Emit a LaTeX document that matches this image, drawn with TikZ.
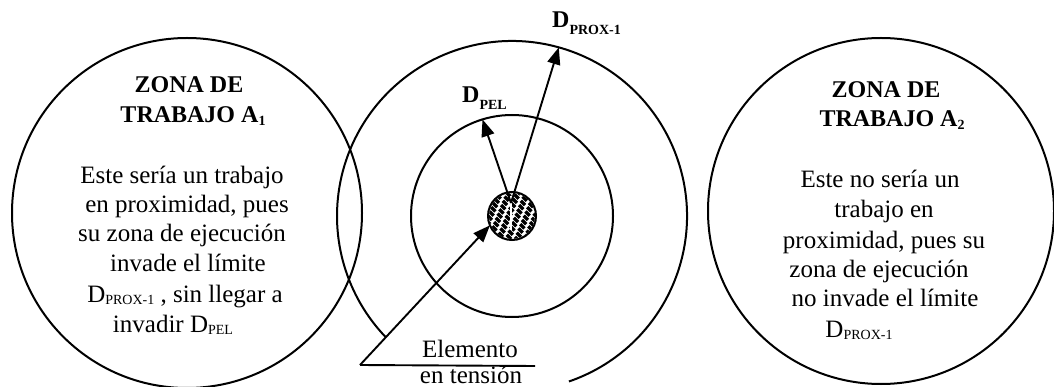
\documentclass[tikz,border=0pt]{standalone}
\usepackage{fontspec}
\setmainfont{Liberation Serif}
\usetikzlibrary{arrows.meta,calc}
\newcommand\subsm[2]{\raisebox{-#1}{\fontsize{14}{14}\selectfont #2}}
\begin{document}
\begin{tikzpicture}[x=1pt,y=-1pt,
  ring/.style={draw, circle, line width=2pt, inner sep=0pt, outer sep=0pt},
  arr/.style={line width=1.9pt, -{Triangle[length=17pt,width=13pt]}},
  txt/.style={anchor=base, inner sep=0pt, font=\fontsize{25}{28}\selectfont},
  hd/.style={anchor=base, inner sep=0pt, font=\fontsize{24}{28}\selectfont\bfseries}]
\useasboundingbox (0,0) rectangle (1054,387);
% work zones
\node[ring, minimum size=350pt] (A1) at (187,213) {};
\node[ring, minimum size=346pt] (A2) at (881,211) {};
% element and limits
\coordinate (c) at (512,216);
\node[ring, minimum size=202pt] (pel) at (c) {};
\draw[line width=2pt] ($(c)+(-71:175pt)$) arc[start angle=-71, end angle=224, radius=175pt];
\node[draw, circle, fill=white, line width=2pt, minimum size=48pt, inner sep=0pt, outer sep=0pt] (hz) at (c) {};
\begin{scope}
  \clip (c) circle (23pt);
  \foreach \k in {-30,-24,...,30}
    \draw[black, line width=3.2pt, dash pattern=on 6pt off 3pt, dash phase=\k pt]
      ($(c)+(\k pt,0)+(-30pt,30pt)$) -- ++(60pt,-60pt);
  \draw[white, line width=1.6pt] ($(c)+(-1pt,20pt)$) -- ++(0pt,-34pt);
\end{scope}
% arrows
\coordinate (o) at (511,203);
\draw[arr] (o) -- ($(c)+(107:101pt)$) coordinate (pelTip);
\draw[arr] (o) -- ($(c)+(74.5:175pt)$) coordinate (proxTip);
\coordinate (e) at (360,365);
\coordinate (eR) at (535,366);
\draw[arr] (e) -- (hz.203);
\draw[line width=1.9pt] (e) -- (eR);
% middle labels
\node[hd, anchor=base west] (lprox) at (552,28) {D\subsm{7pt}{\bfseries PROX-1}};
\node[hd, anchor=base west] (lpel) at (462,103) {D\subsm{7pt}{\bfseries PEL}};
\node[txt] (el1) at (470,357) {Elemento};
\node[txt] (el2) at (471,383) {en tensión};
% left zone text
\node[hd] (a1h1) at (189,93) {ZONA DE};
\node[hd] (a1h2) at (193,123) {TRABAJO A\subsm{3pt}{\bfseries 1}};
\node[txt] (a1t1) at (182,184) {Este sería un trabajo};
\node[txt] (a1t2) at (187,213) {en proximidad, pues};
\node[txt] (a1t3) at (182,242) {su zona de ejecución};
\node[txt] (a1t4) at (188,272) {invade el límite};
\node[txt] (a1t5) at (185,302) {D\subsm{2pt}{PROX-1} , sin llegar a};
\node[txt] (a1t6) at (173,332) {invadir D\subsm{2pt}{PEL}};
% right zone text
\node[hd] (a2h1) at (886,98) {ZONA DE};
\node[hd] (a2h2) at (892,127) {TRABAJO A\subsm{3pt}{\bfseries 2}};
\node[txt] (a2t1) at (880,188) {Este no sería un};
\node[txt] (a2t2) at (884,218) {trabajo en};
\node[txt] (a2t3) at (884,248) {proximidad, pues su};
\node[txt] (a2t4) at (879,277) {zona de ejecución};
\node[txt] (a2t5) at (885,306) {no invade el límite};
\node[txt] (a2t6) at (859,337) {D\subsm{2pt}{PROX-1}};
\end{tikzpicture}
\end{document}
